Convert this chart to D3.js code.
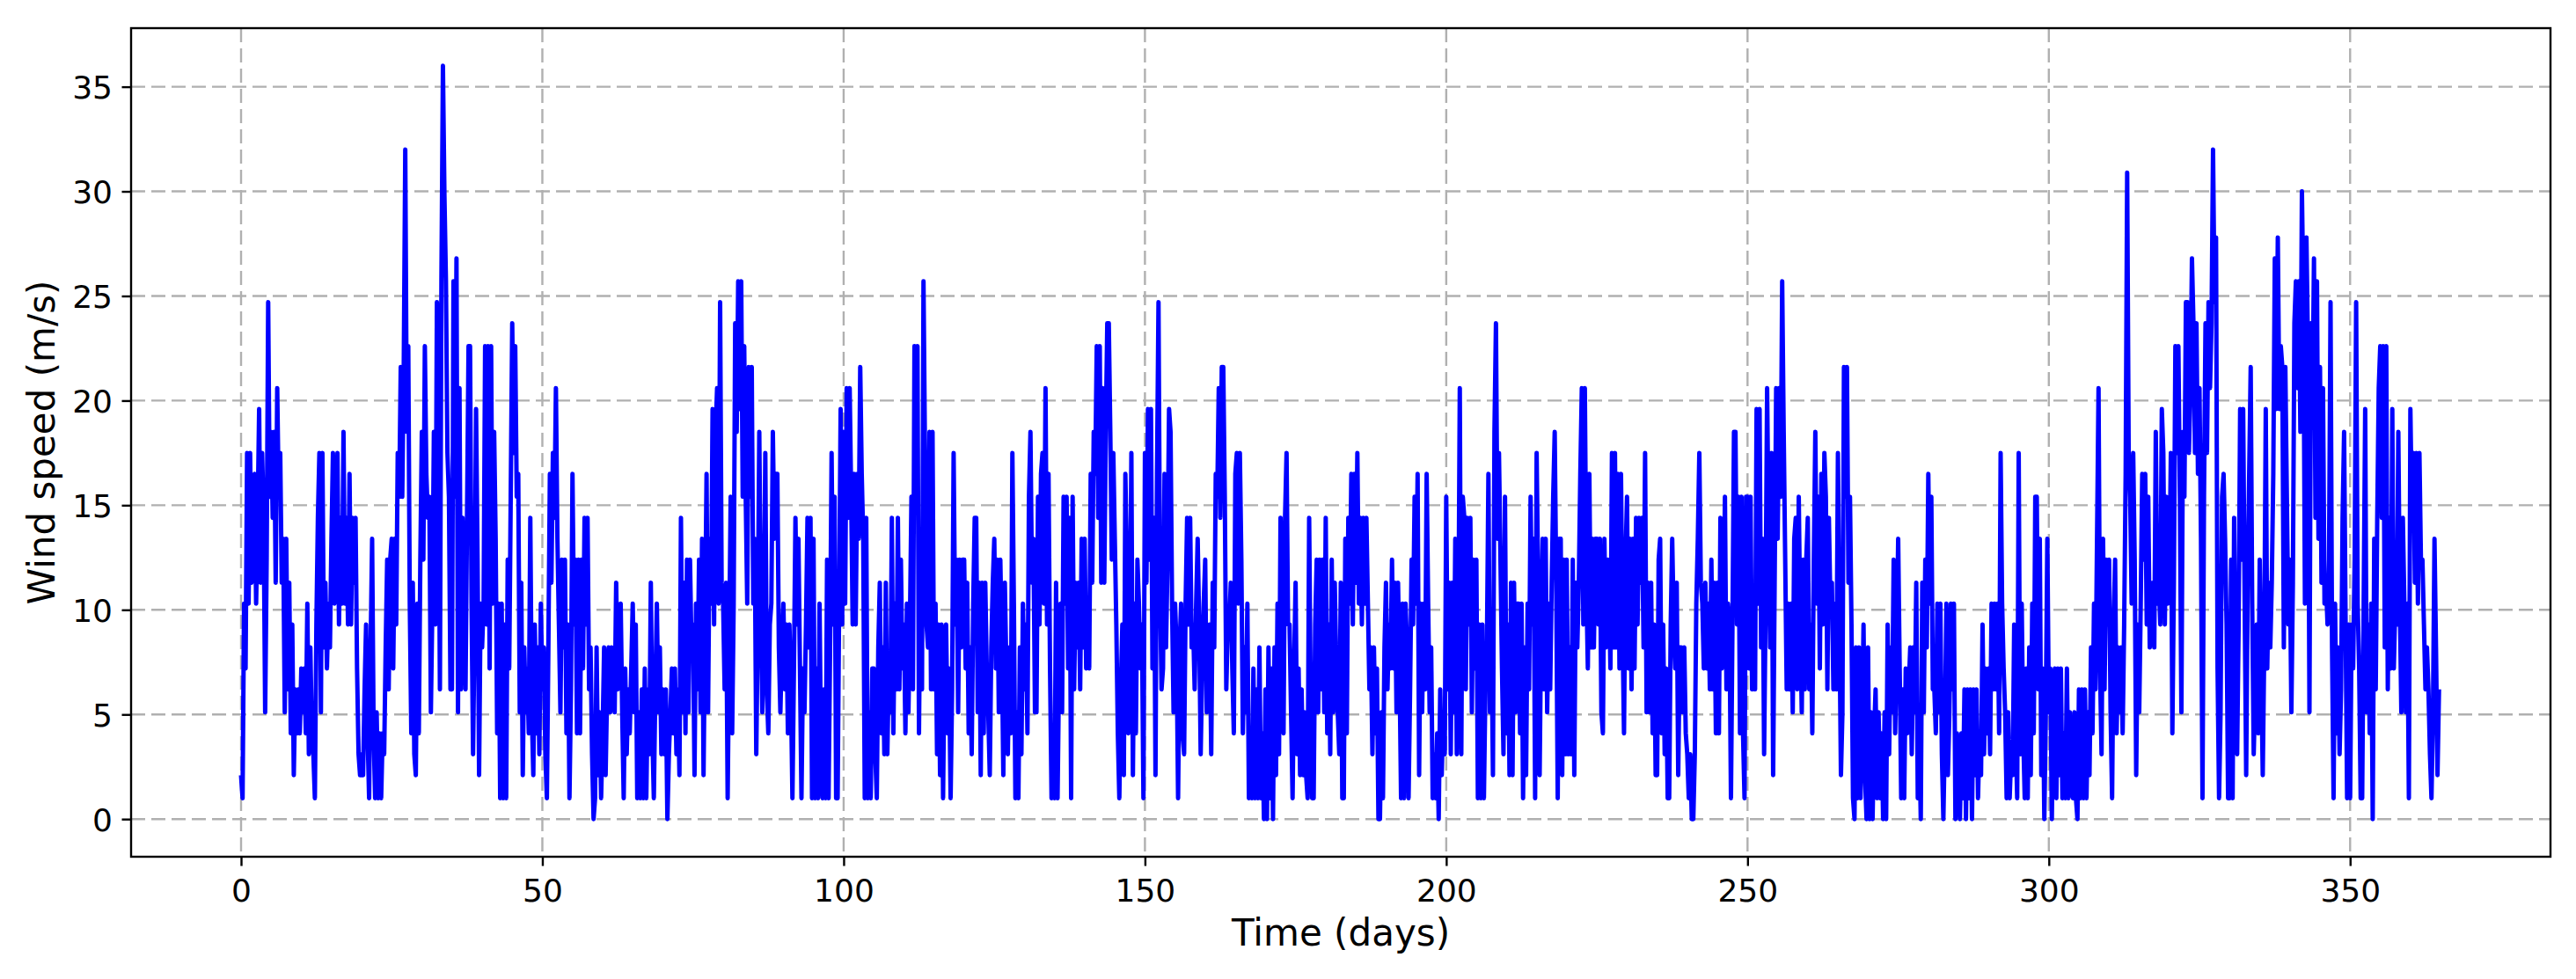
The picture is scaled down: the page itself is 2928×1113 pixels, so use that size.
<!DOCTYPE html>
<html>
<head>
<meta charset="utf-8">
<script src="https://cdn.jsdelivr.net/npm/d3@7"></script>
<style>
  body { margin: 0; background: #fff; }
  text { font-family: "DejaVu Sans", sans-serif; }
</style>
</head>
<body>
<svg id="chart" width="2928" height="1113"></svg>
<script>
// wind speed in m/s, four readings per day (every 6 h)
var jan = [
  2.1,1.0,10.3,7.2, 17.5,10.3,17.5,11.3, 12.4,16.5,10.3,14.4, 19.6,11.3,17.5,14.4, 5.1,12.4,24.7,15.4,
  18.5,14.4,18.5,11.3, 20.6,15.4,17.5,11.3, 13.4,5.1,13.4,6.2, 11.3,4.1,9.3,2.1, 6.2,4.1,6.2,4.1,
  7.2,5.1,7.2,4.1, 10.3,3.1,8.2,4.1, 3.1,1.0,9.3,14.4, 17.5,5.1,17.5,8.2, 11.3,7.2,10.3,8.2,
  13.4,17.5,10.3,14.4, 17.5,9.3,14.4,10.3, 18.5,10.3,14.4,9.3, 16.5,9.3,14.4,11.3, 14.4,7.2,3.1,2.1,
  3.1,2.1,6.2,9.3, 4.1,1.0,8.2,13.4, 4.1,1.0,5.1,1.0, 4.1,1.0,4.1,3.1, 8.2,12.4,6.2,12.4,
  13.4,7.2,13.4,9.3, 17.5,15.4,21.6,15.4, 21.6,32.0,18.5,22.6, 10.3,4.1,11.3,3.1, 2.1,10.3,4.1,12.4,
  18.5,12.4,22.6,16.5
];
var feb = [
  14.4,15.4,5.1,10.3, 18.5,9.3,24.7,19.6, 6.2,25.7,36.0,29.8, 25.7,17.5,15.4,6.2, 6.2,25.7,15.4,26.8,
  5.1,20.6,6.2,14.4, 11.3,6.2,14.4,22.6, 22.6,10.3,3.1,9.3, 19.6,12.4,2.1,10.3, 8.2,10.3,22.6,9.3,
  22.6,7.2,22.6,10.3, 18.5,13.4,4.1,10.3, 1.0,10.3,1.0,9.3, 1.0,12.4,7.2,15.4, 23.7,17.5,22.6,15.4,
  16.5,5.1,11.3,2.1, 8.2,5.1,7.2,4.1, 14.4,5.1,2.1,9.3, 4.1,8.2,3.1,10.3, 6.2,8.2,3.1,1.0,
  8.2,16.5,11.3,17.5, 14.4,20.6,13.4,9.3, 5.1,12.4,8.2,12.4, 4.1,9.3,1.0,6.2, 16.5,9.3,12.4,4.1,
  12.4,4.1,12.4,7.2, 14.4,9.3,14.4,6.2, 8.2,3.1,0.0,1.0
];
var mar = [
  8.2,2.1,5.1,1.0, 4.1,8.2,2.1,6.2, 8.2,5.1,8.2,6.2, 5.1,11.3,6.2,8.2, 10.3,5.1,1.0,7.2,
  3.1,6.2,4.1,7.2, 10.3,5.1,9.3,1.0, 5.1,1.0,6.2,1.0, 7.2,1.0,6.2,3.1, 11.3,4.1,1.0,6.2,
  10.3,5.1,8.2,3.1, 6.2,3.1,6.2,0.0, 3.1,5.1,7.2,4.1, 7.2,3.1,6.2,2.1, 14.4,5.1,11.3,4.1,
  12.4,5.1,12.4,8.2, 9.3,2.1,10.3,6.2, 12.4,5.1,13.4,2.1, 9.3,16.5,5.1,13.4, 10.3,19.6,9.3,18.5,
  20.6,10.3,24.7,11.3, 10.3,6.2,11.3,1.0, 8.2,15.4,4.1,10.3, 23.7,18.5,25.7,19.6, 25.7,15.4,22.6,15.4,
  10.3,21.6,15.4,21.6, 10.3,13.4,3.1,9.3, 18.5,10.3,5.1,9.3, 17.5,6.2,4.1,9.3, 10.3,18.5,13.4,16.5,
  16.5,8.2,5.1,8.2
];
var apr = [
  10.3,6.2,9.3,4.1, 9.3,6.2,1.0,7.2, 14.4,9.3,13.4,7.2, 1.0,7.2,5.1,9.3, 14.4,8.2,14.4,1.0,
  13.4,1.0,7.2,1.0, 10.3,3.1,1.0,6.2, 1.0,12.4,1.0,8.2, 17.5,9.3,15.4,1.0, 1.0,10.3,19.6,9.3,
  18.5,10.3,20.6,14.4, 20.6,15.4,9.3,16.5, 9.3,16.5,13.4,21.6, 16.5,13.4,1.0,14.4, 1.0,5.1,1.0,7.2,
  7.2,3.1,1.0,8.2, 11.3,4.1,8.2,3.1, 11.3,3.1,7.2,5.1, 14.4,4.1,10.3,6.2, 14.4,6.2,12.4,7.2,
  9.3,4.1,10.3,5.1, 9.3,15.4,6.2,22.6, 16.5,22.6,4.1,12.4, 6.2,25.7,17.5,9.3, 8.2,18.5,6.2,18.5,
  6.2,10.3,3.1,9.3, 2.1,9.3,1.0,8.2, 9.3,4.1,7.2,1.0, 6.2,17.5,9.3,12.4, 5.1,12.4,8.2,12.4
];
var may = [
  12.4,7.2,11.3,4.1, 8.2,3.1,10.3,14.4, 14.4,5.1,11.3,2.1, 11.3,4.1,11.3,7.2, 5.1,2.1,8.2,11.3,
  13.4,7.2,12.4,5.1, 12.4,8.2,2.1,11.3, 7.2,3.1,8.2,4.1, 17.5,10.3,1.0,5.1, 1.0,8.2,3.1,10.3,
  6.2,9.3,4.1,15.4, 18.5,11.3,13.4,5.1, 5.1,15.4,9.3,16.5, 17.5,10.3,20.6,9.3, 16.5,7.2,1.0,4.1,
  1.0,11.3,1.0,7.2, 10.3,5.1,15.4,10.3, 15.4,7.2,14.4,1.0, 15.4,6.2,11.3,8.2, 11.3,6.2,13.4,8.2,
  13.4,7.2,10.3,7.2, 16.5,11.3,18.5,16.5, 22.6,14.4,22.6,11.3, 20.6,11.3,18.5,23.7, 23.7,18.5,12.4,17.5,
  13.4,9.3,4.1,1.0, 6.2,9.3,2.1,16.5, 12.4,4.1,8.2,17.5, 2.1,10.3,4.1,12.4, 10.3,7.2,9.3,1.0,
  17.5,11.3,19.6,12.4
];
var jun = [
  19.6,7.2,14.4,2.1, 16.5,24.7,11.3,6.2, 7.2,16.5,8.2,12.4, 19.6,18.5,10.3,5.1, 10.3,8.2,1.0,8.2,
  10.3,4.1,3.1,10.3, 14.4,9.3,14.4,8.2, 9.3,6.2,10.3,13.4, 9.3,3.1,7.2,10.3, 12.4,5.1,6.2,9.3,
  3.1,11.3,8.2,16.5, 15.4,20.6,14.4,21.6, 21.6,15.4,6.2,9.3, 9.3,11.3,7.2,4.1, 16.5,17.5,10.3,17.5,
  12.4,4.1,8.2,5.1, 10.3,1.0,3.1,1.0, 7.2,1.0,6.2,1.0, 8.2,1.0,4.1,0.0, 6.2,0.0,8.2,1.0,
  7.2,0.0,8.2,2.1, 10.3,3.1,14.4,11.3, 4.1,14.4,17.5,9.3, 9.3,5.1,1.0,7.2, 11.3,3.1,7.2,2.1,
  6.2,2.1,5.1,2.1, 1.0,14.4,6.2,1.0, 1.0,9.3,12.4,5.1, 12.4,6.2,12.4,5.1, 14.4,4.1,9.3,3.1
];
var jul = [
  12.4,5.1,11.3,7.2, 5.1,3.1,11.3,1.0, 1.0,13.4,4.1,14.4, 10.3,16.5,9.3,16.5, 11.3,17.5,10.3,14.4,
  9.3,14.4,10.3,14.4, 10.3,6.2,8.2,3.1, 8.2,4.1,7.2,0.0, 0.0,5.1,1.0,8.2, 11.3,6.2,9.3,7.2,
  12.4,7.2,11.3,5.1, 11.3,7.2,1.0,10.3, 1.0,10.3,8.2,1.0, 6.2,12.4,9.3,15.4, 10.3,16.5,2.1,10.3,
  5.1,10.3,6.2,16.5, 10.3,5.1,8.2,1.0, 3.1,1.0,4.1,0.0, 6.2,2.1,5.1,3.1, 15.4,6.2,11.3,3.1,
  11.3,5.1,13.4,3.1, 8.2,20.6,3.1,15.4, 14.4,6.2,14.4,9.3, 14.4,5.1,12.4,7.2, 12.4,1.0,9.3,1.0,
  9.3,1.0,6.2,8.2, 16.5,5.1,9.3,2.1, 18.5,23.7,13.4,17.5, 12.4,7.2,3.1,15.4, 4.1,9.3,2.1,11.3,
  2.1,11.3,5.1,10.3
];
var aug = [
  10.3,4.1,10.3,1.0, 8.2,2.1,10.3,6.2, 15.4,9.3,13.4,1.0, 17.5,11.3,2.1,9.3, 13.4,6.2,13.4,5.1,
  10.3,6.2,11.3,15.4, 18.5,11.3,1.0,13.4, 13.4,2.1,12.4,3.1, 12.4,3.1,8.2,3.1, 12.4,2.1,11.3,8.2,
  11.3,16.5,20.6,9.3, 20.6,11.3,7.2,16.5, 8.2,13.4,8.2,13.4, 13.4,9.3,13.4,5.1, 4.1,13.4,8.2,12.4,
  11.3,7.2,17.5,8.2, 17.5,8.2,16.5,7.2, 16.5,9.3,4.1,12.4, 15.4,7.2,13.4,6.2, 13.4,7.2,14.4,9.3,
  14.4,11.3,14.4,8.2, 17.5,5.1,11.3,5.1, 11.3,4.1,9.3,2.1, 2.1,12.4,13.4,4.1, 9.3,3.1,7.2,1.0,
  1.0,9.3,13.4,9.3, 7.2,11.3,2.1,8.2, 8.2,5.1,8.2,4.1, 3.1,1.0,3.1,0.0, 0.0,3.1,10.3,13.4,
  17.5,11.3,10.3,7.2
];
var sep = [
  11.3,7.2,10.3,6.2, 12.4,6.2,11.3,4.1, 11.3,4.1,14.4,7.2, 9.3,15.4,6.2,10.3, 9.3,1.0,9.3,18.5,
  18.5,9.3,15.4,4.1, 15.4,4.1,1.0,15.4, 15.4,7.2,15.4,6.2, 9.3,6.2,19.6,10.3, 19.6,8.2,13.4,3.1,
  10.3,20.6,13.4,8.2, 17.5,2.1,11.3,20.6, 13.4,20.6,15.4,25.7, 18.5,12.4,6.2,10.3, 6.2,10.3,5.1,13.4,
  14.4,6.2,15.4,9.3, 5.1,12.4,6.2,12.4, 14.4,6.2,9.3,4.1, 12.4,18.5,10.3,15.4, 7.2,16.5,9.3,17.5,
  15.4,6.2,14.4,10.3, 11.3,6.2,10.3,6.2, 17.5,9.3,2.1,5.1, 21.6,15.4,21.6,11.3, 15.4,9.3,1.0,0.0,
  8.2,1.0,8.2,1.0, 4.1,9.3,2.1,0.0, 8.2,0.0,5.1,0.0, 4.1,6.2,1.0,5.1, 1.0,4.1,0.0,5.1
];
var oct = [
  0.0,9.3,3.1,8.2, 5.1,12.4,4.1,8.2, 13.4,7.2,1.0,6.2, 1.0,7.2,4.1,6.2, 8.2,3.1,8.2,5.1,
  11.3,1.0,4.1,0.0, 11.3,5.1,12.4,8.2, 16.5,10.3,15.4,6.2, 6.2,4.1,10.3,5.1, 10.3,3.1,0.0,4.1,
  10.3,2.1,5.1,10.3, 6.2,10.3,0.0,4.1, 3.1,0.0,4.1,1.0, 6.2,0.0,6.2,1.0, 6.2,0.0,6.2,2.1,
  6.2,1.0,4.1,2.1, 9.3,3.1,7.2,4.1, 7.2,3.1,10.3,6.2, 10.3,6.2,10.3,4.1, 17.5,10.3,7.2,5.1,
  1.0,5.1,1.0,3.1, 2.1,9.3,4.1,1.0, 17.5,3.1,10.3,4.1, 1.0,7.2,1.0,8.2, 2.1,10.3,4.1,15.4,
  15.4,6.2,13.4,2.1, 7.2,0.0,5.1,13.4, 5.1,7.2,0.0,6.2, 7.2,1.0,7.2,2.1, 7.2,1.0,4.1,1.0,
  7.2,1.0,5.1,2.1
];
var nov = [
  1.0,5.1,1.0,0.0, 6.2,1.0,6.2,1.0, 6.2,1.0,5.1,2.1, 8.2,4.1,10.3,6.2, 13.4,20.6,7.2,3.1,
  13.4,6.2,12.4,9.3, 12.4,5.1,1.0,9.3, 12.4,4.1,8.2,5.1, 8.2,4.1,9.3,16.5, 30.9,17.5,15.4,10.3,
  17.5,12.4,2.1,9.3, 5.1,10.3,16.5,12.4, 16.5,9.3,15.4,8.2, 9.3,11.3,8.2,18.5, 10.3,11.3,9.3,19.6,
  17.5,9.3,15.4,10.3, 11.3,17.5,4.1,11.3, 22.6,17.5,22.6,15.4, 5.1,18.5,15.4,24.7, 24.7,17.5,20.6,26.8,
  23.7,17.5,23.7,16.5, 20.6,13.4,1.0,15.4, 23.7,17.5,24.7,20.6, 23.7,32.0,24.7,27.8, 7.2,1.0,5.1,15.4,
  16.5,13.4,9.3,1.0, 1.0,12.4,1.0,14.4, 6.2,3.1,9.3,19.6, 12.4,19.6,10.3,2.1, 11.3,16.5,21.6,10.3
];
var dec = [
  3.1,6.2,9.3,4.1, 12.4,7.2,2.1,8.2, 19.6,7.2,11.3,8.2, 11.3,16.5,26.8,19.6, 27.8,19.6,22.6,21.6,
  8.2,21.6,15.4,9.3, 12.4,5.1,11.3,23.7, 25.7,20.6,25.7,18.5, 30.0,24.7,10.3,27.8, 22.6,5.1,23.7,19.6,
  26.8,14.4,25.7,13.4, 21.6,11.3,20.6,10.3, 11.3,9.3,12.4,24.7, 8.2,1.0,10.3,4.1, 8.2,3.1,6.2,14.4,
  18.5,9.3,1.0,9.3, 1.0,9.3,7.2,12.4, 24.7,10.3,7.2,1.0, 1.0,10.3,19.6,5.1, 9.3,4.1,10.3,0.0,
  13.4,6.2,14.4,20.6, 22.6,14.4,22.6,8.2, 22.6,6.2,14.4,7.2, 19.6,7.2,10.3,9.3, 18.5,10.3,5.1,14.4,
  10.3,5.1,10.3,1.0, 19.6,14.4,17.5,11.3, 17.5,10.3,17.5,12.4, 12.4,9.3,6.2,8.2, 6.2,3.1,1.0,5.1,
  13.4,8.2,2.1,6.2
];

var xTicks = [0, 50, 100, 150, 200, 250, 300, 350];
var yTicks = [0, 5, 10, 15, 20, 25, 30, 35];
var samplesPerDay = 4;

var speed = [].concat(jan, feb, mar, apr, may, jun, jul, aug, sep, oct, nov, dec);
var data = speed.map(function (v, i) { return { t: i / samplesPerDay, v: v }; });

var margin = { top: 32, right: 29, bottom: 139, left: 149 };
var W = 2928, H = 1113;
var w = W - margin.left - margin.right,
    h = H - margin.top - margin.bottom;

var svg = d3.select("#chart");
svg.append("rect").attr("width", W).attr("height", H).attr("fill", "#fff");

var g = svg.append("g").attr("transform", "translate(" + margin.left + "," + margin.top + ")");

// axis limits the way matplotlib pads them (5% each side)
var x = d3.scaleLinear().domain([-18.25, 383.25]).range([0, w]);
var y = d3.scaleLinear().domain([-1.8, 37.8]).range([h, 0]);

// grid
g.append("g").selectAll("line.vg")
  .data(xTicks).enter().append("line")
    .attr("x1", function (d) { return x(d); })
    .attr("x2", function (d) { return x(d); })
    .attr("y1", 0).attr("y2", h)
    .attr("stroke", "#b0b0b0").attr("stroke-width", 2.4)
    .attr("stroke-dasharray", "16,7");
g.append("g").selectAll("line.hg")
  .data(yTicks).enter().append("line")
    .attr("y1", function (d) { return y(d); })
    .attr("y2", function (d) { return y(d); })
    .attr("x1", 0).attr("x2", w)
    .attr("stroke", "#b0b0b0").attr("stroke-width", 2.4)
    .attr("stroke-dasharray", "16,7");

// the series
g.append("clipPath").attr("id", "clip")
  .append("rect").attr("width", w).attr("height", h);

var line = d3.line()
  .x(function (d) { return x(d.t); })
  .y(function (d) { return y(d.v); });

g.append("path")
  .datum(data)
  .attr("clip-path", "url(#clip)")
  .attr("fill", "none")
  .attr("stroke", "#0000ff")
  .attr("stroke-width", 5)
  .attr("stroke-linejoin", "round")
  .attr("d", line);

// axes
var xAxis = g.append("g")
  .attr("transform", "translate(0," + h + ")")
  .call(d3.axisBottom(x).tickValues(xTicks).tickSize(10.5).tickPadding(8).tickFormat(d3.format("d")));
var yAxis = g.append("g")
  .call(d3.axisLeft(y).tickValues(yTicks).tickSize(10.5).tickPadding(10.5).tickFormat(d3.format("d")));

[xAxis, yAxis].forEach(function (a) {
  a.select(".domain").remove();
  a.selectAll(".tick line").attr("stroke", "#000").attr("stroke-width", 2.4);
  a.selectAll(".tick text").attr("fill", "#000").style("font-size", "36px")
    .style("font-family", "'DejaVu Sans', sans-serif");
});
xAxis.selectAll(".tick text").attr("dy", null).attr("y", 51);
yAxis.selectAll(".tick text").attr("dy", "0.36em");

// frame
g.append("rect")
  .attr("width", w).attr("height", h)
  .attr("fill", "none").attr("stroke", "#000").attr("stroke-width", 2.4);

// labels
svg.append("text")
  .attr("x", margin.left + w / 2).attr("y", 1075)
  .attr("text-anchor", "middle")
  .style("font-size", "42px")
  .text("Time (days)");

svg.append("text")
  .attr("transform", "translate(62," + (margin.top + h / 2) + ") rotate(-90)")
  .attr("text-anchor", "middle")
  .style("font-size", "42px")
  .text("Wind speed (m/s)");
</script>
</body>
</html>
